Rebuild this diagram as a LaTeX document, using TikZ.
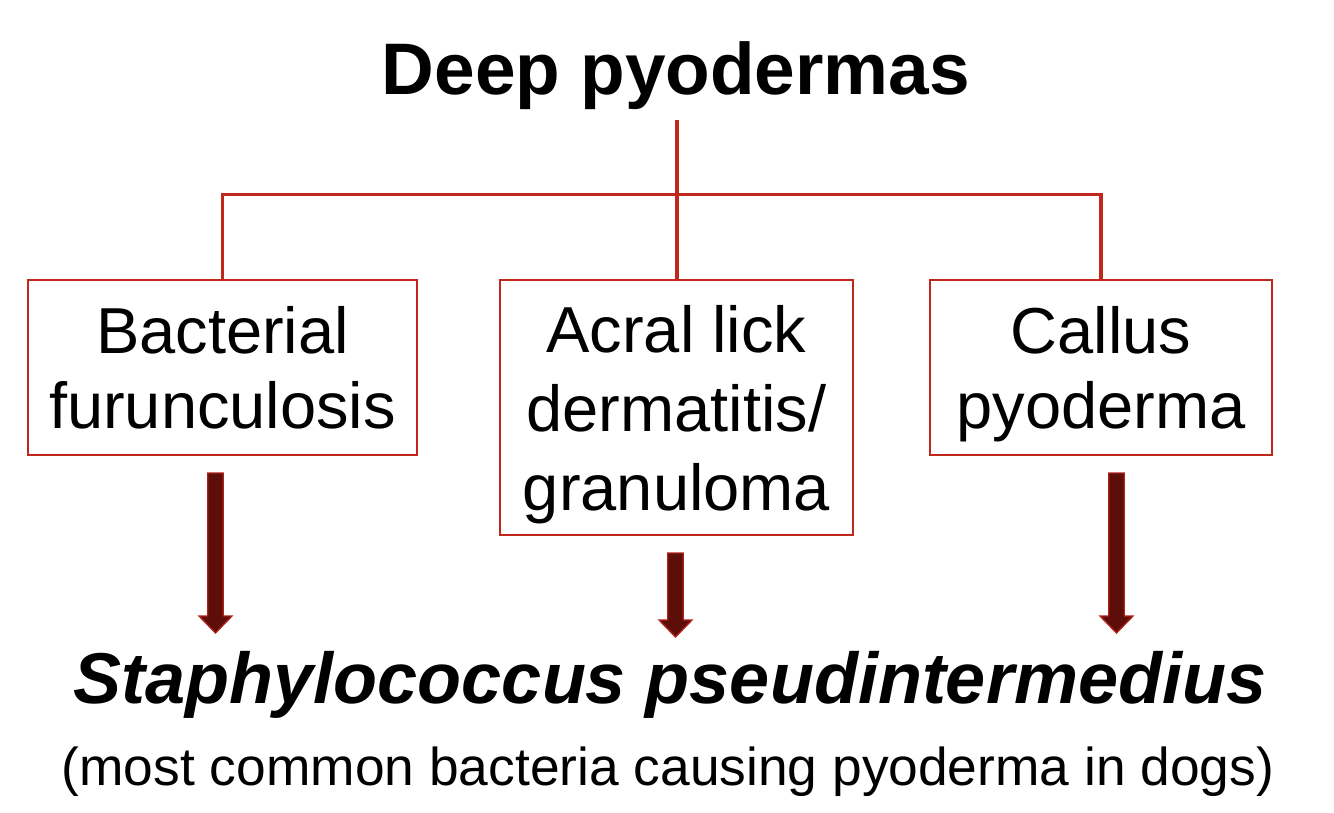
\documentclass[tikz,border=0pt]{standalone}
\usepackage{fontspec}
\setmainfont{Liberation Sans}
\usetikzlibrary{calc}
\definecolor{boxred}{HTML}{C0281C}
\definecolor{arrowfill}{HTML}{5E0E08}
\definecolor{arrowline}{HTML}{B0201A}
\newcommand{\tstr}{\rule{0pt}{44.75pt}}
\newcommand{\bstr}{\vphantom{g}}
\tikzset{
  box/.style={draw=boxred, line width=2.1pt, inner sep=0pt, align=center},
  twoline/.style={font=\fontsize{48.75}{56.25}\selectfont},
  threeline/.style={font=\fontsize{48.75}{59.25}\selectfont},
  conn/.style={draw=boxred, line width=2.3pt},
  blockarrow/.style={fill=arrowfill, draw=arrowline, line width=1pt, line join=miter},
}
\newcommand{\blockarr}[2]{%
  \path[blockarrow] ($(#1)+(-7.8,0)$) -- ($(#2)+(-7.8,-17)$) -- ($(#2)+(-16.5,-17)$) -- (#2)
    -- ($(#2)+(16.5,-17)$) -- ($(#2)+(7.8,-17)$) -- ($(#1)+(7.8,0)$) -- cycle;}
\begin{document}
\begin{tikzpicture}[x=0.75pt,y=-0.75pt]
\useasboundingbox (0,0) rectangle (1334,813);
\node[anchor=base, font=\fontsize{54.75}{60}\selectfont\bfseries] (title) at (676,95) {Deep pyodermas};
\node[box, twoline, minimum width=291.75pt, minimum height=131.25pt] (b1) at (222.5,367.5) {\tstr Bacterial\\furunculosis\bstr};
\node[box, threeline, minimum width=264.75pt, minimum height=191.25pt] (b2) at (676.5,407.5) {\rule{0pt}{45.5pt}Acral lick\\dermatitis/\\granuloma\bstr};
\node[box, twoline, minimum width=256.5pt, minimum height=131.25pt] (b3) at (1101,367.5) {\tstr Callus\\pyoderma\bstr};
\coordinate (stem) at (677,120);
\draw[conn] (stem) -- (stem |- b2.north);
\draw[conn] (b1.north) -- ++(0,-84) -| (b3.north);
\node[anchor=base, font=\fontsize{54}{60}\selectfont\bfseries\itshape] (staph) at (670,703) {Staphylococcus pseudintermedius};
\node[anchor=base, font=\fontsize{40}{48}\selectfont] (note) at (668,785) {(most common bacteria causing pyoderma in dogs)};
\coordinate (a1s) at (215.5,473);
\coordinate (a1e) at (215.5,633);
\coordinate (a2s) at (675.5,553);
\coordinate (a2e) at (675.5,637);
\coordinate (a3s) at (1116.5,473);
\coordinate (a3e) at (1116.5,633);
\blockarr{a1s}{a1e}
\blockarr{a2s}{a2e}
\blockarr{a3s}{a3e}
\end{tikzpicture}
\end{document}
